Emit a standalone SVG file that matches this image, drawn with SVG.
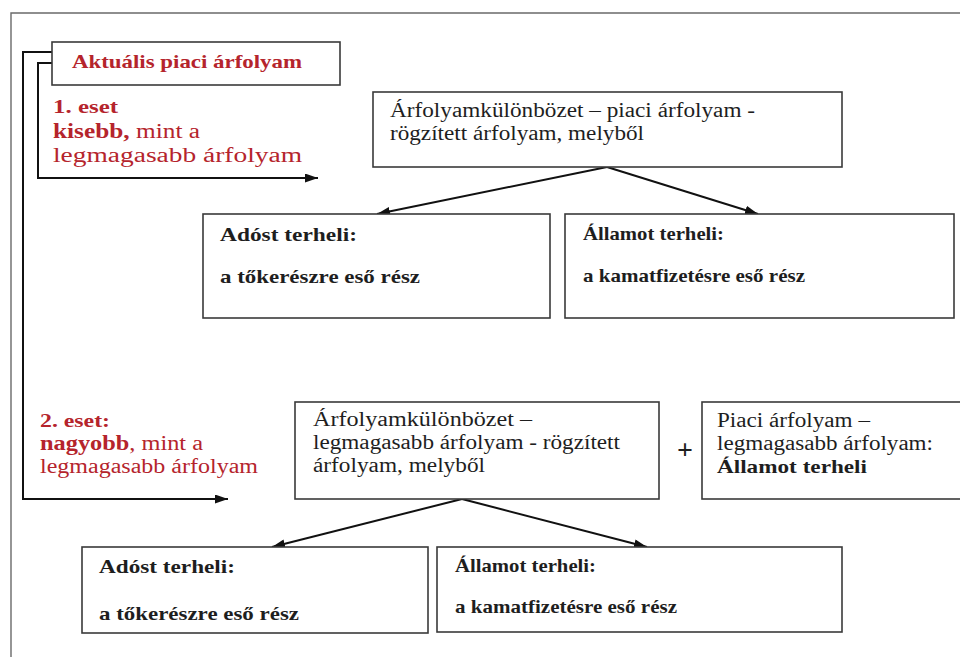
<svg xmlns="http://www.w3.org/2000/svg" width="960" height="657" viewBox="0 0 960 657">
<style>
  text { font-family: "Liberation Serif", "Times New Roman", "DejaVu Serif", serif; fill: #1e1e1e; }
  .t { font-size: 20px; }
  .b { font-size: 19px; font-weight: bold; }
  .red { fill: #b5242c; }
  .box { fill: #fff; stroke: #3a3a3a; stroke-width: 1.6; }
  .frame { fill: none; stroke: #6a6a6a; stroke-width: 1.4; }
  .conn { fill: none; stroke: #111; stroke-width: 2; }
</style>
<defs>
  <marker id="ah" viewBox="0 0 13 9" refX="13" refY="4.5" markerWidth="13" markerHeight="9" markerUnits="userSpaceOnUse" orient="auto">
    <path d="M0,0 L13,4.5 L0,9 Z" fill="#111"/>
  </marker>
</defs>
<rect width="960" height="657" fill="#fff"/>
<path class="frame" d="M11,670 V13 H970"/>

<g id="connectors">
  <path class="conn" d="M52,52 H23 V499 H228" marker-end="url(#ah)"/>
  <path class="conn" d="M52,63 H38 V178 H318" marker-end="url(#ah)"/>
  <path class="conn" d="M607,167 L377,214" marker-end="url(#ah)"/>
  <path class="conn" d="M607,167 L758,214" marker-end="url(#ah)"/>
  <path class="conn" d="M462,499 L272,547" marker-end="url(#ah)"/>
  <path class="conn" d="M462,499 L647,547" marker-end="url(#ah)"/>
</g>

<g id="aktualis">
  <rect class="box" x="52" y="42" width="288" height="43"/>
  <text class="b red" x="72" y="68" textLength="230" lengthAdjust="spacingAndGlyphs">Aktuális piaci árfolyam</text>
</g>

<g id="eset1">
  <text class="b red" x="53" y="113" textLength="65" lengthAdjust="spacingAndGlyphs" font-size="20">1. eset</text>
  <text class="t red" x="53" y="138" textLength="147" lengthAdjust="spacingAndGlyphs" font-size="21"><tspan font-weight="bold">kisebb,</tspan> mint a</text>
  <text class="t red" x="53" y="162" textLength="249" lengthAdjust="spacingAndGlyphs" font-size="21">legmagasabb árfolyam</text>
</g>

<g id="kulonbozet1">
  <rect class="box" x="373" y="92" width="469" height="75"/>
  <text class="t" x="390" y="117" textLength="365" lengthAdjust="spacingAndGlyphs">Árfolyamkülönbözet – piaci árfolyam -</text>
  <text class="t" x="390" y="140" textLength="254" lengthAdjust="spacingAndGlyphs">rögzített árfolyam, melyből</text>
</g>

<g id="adost1">
  <rect class="box" x="203" y="214" width="347" height="104"/>
  <text class="b" x="220" y="241" textLength="137" lengthAdjust="spacingAndGlyphs">Adóst terheli:</text>
  <text class="b" x="220" y="283" textLength="200" lengthAdjust="spacingAndGlyphs">a tőkerészre eső rész</text>
</g>

<g id="allamot1">
  <rect class="box" x="565" y="214" width="389" height="104"/>
  <text class="b" x="583" y="240" textLength="141" lengthAdjust="spacingAndGlyphs">Államot terheli:</text>
  <text class="b" x="583" y="282" textLength="222" lengthAdjust="spacingAndGlyphs">a kamatfizetésre eső rész</text>
</g>

<g id="eset2">
  <text class="b red" x="40" y="427" textLength="70" lengthAdjust="spacingAndGlyphs">2. eset:</text>
  <text class="t red" x="40" y="450" textLength="163" lengthAdjust="spacingAndGlyphs"><tspan font-weight="bold">nagyobb</tspan>, mint a</text>
  <text class="t red" x="40" y="473" textLength="218" lengthAdjust="spacingAndGlyphs">legmagasabb árfolyam</text>
</g>

<g id="kulonbozet2">
  <rect class="box" x="295" y="402" width="364" height="97"/>
  <text class="t" x="313" y="426" textLength="219" lengthAdjust="spacingAndGlyphs">Árfolyamkülönbözet –</text>
  <text class="t" x="313" y="449" textLength="307" lengthAdjust="spacingAndGlyphs">legmagasabb árfolyam - rögzített</text>
  <text class="t" x="313" y="472" textLength="172" lengthAdjust="spacingAndGlyphs">árfolyam, melyből</text>
</g>

<g id="plus">
  <text x="685" y="459" font-size="28" font-weight="bold" text-anchor="middle">+</text>
</g>

<g id="piaci">
  <rect class="box" x="702" y="402" width="270" height="97"/>
  <text class="t" x="717" y="427" textLength="153" lengthAdjust="spacingAndGlyphs">Piaci árfolyam –</text>
  <text class="t" x="717" y="450" textLength="216" lengthAdjust="spacingAndGlyphs">legmagasabb árfolyam:</text>
  <text class="b" x="717" y="473" textLength="150" lengthAdjust="spacingAndGlyphs">Államot terheli</text>
</g>

<g id="adost2">
  <rect class="box" x="82" y="547" width="346" height="86"/>
  <text class="b" x="99" y="573" textLength="136" lengthAdjust="spacingAndGlyphs">Adóst terheli:</text>
  <text class="b" x="99" y="620" textLength="200" lengthAdjust="spacingAndGlyphs">a tőkerészre eső rész</text>
</g>

<g id="allamot2">
  <rect class="box" x="437" y="547" width="405" height="85"/>
  <text class="b" x="455" y="572" textLength="141" lengthAdjust="spacingAndGlyphs">Államot terheli:</text>
  <text class="b" x="455" y="613" textLength="222" lengthAdjust="spacingAndGlyphs">a kamatfizetésre eső rész</text>
</g>
</svg>
